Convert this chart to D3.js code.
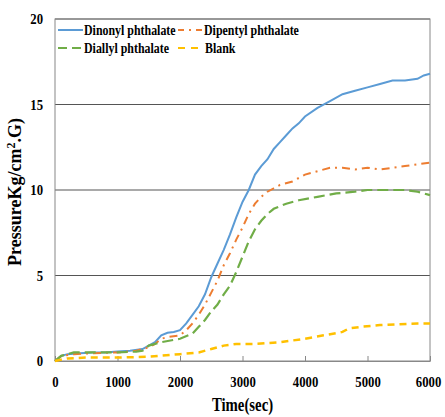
<!DOCTYPE html>
<html lang="en">
<head>
<meta charset="utf-8">
<title>Pressure vs time</title>
<script src="https://cdn.jsdelivr.net/npm/d3@7"></script>
<style>
  body { margin: 0; background: #fff; }
</style>
</head>
<body>
<svg id="chart" width="445" height="417"></svg>
<script>
// time (sec) and pressure readings per sample
var timeDinonyl = [0, 100, 200, 400, 600, 800, 1000, 1200, 1400, 1500, 1600, 1700, 1800, 1900, 2000, 2100, 2200, 2300, 2400, 2500, 2600, 2700, 2800, 2900, 3000, 3100, 3200, 3300, 3400, 3500, 3600, 3700, 3800, 3900, 4000, 4200, 4400, 4600, 4800, 5000, 5200, 5400, 5600, 5800, 5900, 6000];
var dinonyl     = [0, 0.3, 0.4, 0.45, 0.5, 0.5, 0.55, 0.6, 0.7, 0.9, 1.1, 1.5, 1.65, 1.7, 1.8, 2.2, 2.7, 3.2, 3.9, 4.9, 5.7, 6.5, 7.4, 8.4, 9.3, 10.0, 10.9, 11.4, 11.8, 12.4, 12.8, 13.2, 13.6, 13.9, 14.3, 14.8, 15.2, 15.6, 15.8, 16.0, 16.2, 16.4, 16.4, 16.5, 16.7, 16.8];

var timeDipentyl = [0, 100, 300, 600, 1000, 1300, 1500, 1600, 1700, 1800, 2000, 2100, 2200, 2300, 2400, 2500, 2600, 2700, 2800, 2900, 3000, 3100, 3200, 3300, 3400, 3500, 3600, 3800, 4000, 4200, 4400, 4600, 4800, 5000, 5200, 5400, 5600, 5800, 6000];
var dipentyl     = [0, 0.3, 0.4, 0.45, 0.5, 0.6, 0.8, 1.0, 1.3, 1.4, 1.5, 1.8, 2.2, 2.7, 3.3, 4.0, 4.7, 5.6, 6.3, 7.1, 7.8, 8.6, 9.2, 9.6, 9.9, 10.1, 10.3, 10.5, 10.9, 11.1, 11.3, 11.3, 11.2, 11.3, 11.2, 11.3, 11.4, 11.5, 11.6];

var timeDiallyl = [0, 100, 300, 600, 1000, 1300, 1400, 1500, 1700, 2000, 2200, 2300, 2400, 2500, 2600, 2700, 2800, 2900, 3000, 3100, 3200, 3300, 3400, 3500, 3700, 3900, 4200, 4500, 4800, 5000, 5300, 5600, 5800, 6000];
var diallyl     = [0, 0.3, 0.5, 0.5, 0.5, 0.55, 0.6, 0.9, 1.1, 1.3, 1.6, 2.0, 2.4, 2.9, 3.3, 3.9, 4.4, 5.2, 6.1, 7.0, 7.7, 8.2, 8.6, 8.9, 9.2, 9.4, 9.6, 9.8, 9.9, 10.0, 10.0, 10.0, 9.9, 9.7];

var timeBlank = [0, 200, 500, 1000, 1500, 2000, 2300, 2500, 2700, 2900, 3200, 3600, 4000, 4300, 4600, 4700, 4900, 5200, 5500, 5800, 6000];
var blank     = [0, 0.15, 0.2, 0.2, 0.25, 0.4, 0.5, 0.7, 0.9, 1.0, 1.0, 1.1, 1.3, 1.5, 1.7, 1.9, 2.0, 2.1, 2.15, 2.2, 2.2];

var seriesNames = ["Dinonyl phthalate", "Dipentyl phthalate", "Diallyl phthalate", "Blank"];
var xTicks = [0, 1000, 2000, 3000, 4000, 5000, 6000];
var yTicks = [0, 5, 10, 15, 20];

var series = [
  {name: seriesNames[0], t: timeDinonyl, v: dinonyl, color: "#5B9BD5", dash: null, width: 2},
  {name: seriesNames[1], t: timeDipentyl, v: dipentyl, color: "#ED7D31", dash: "8,5,2,5", width: 2},
  {name: seriesNames[2], t: timeDiallyl, v: diallyl, color: "#70AD47", dash: "11,5", width: 2.2},
  {name: seriesNames[3], t: timeBlank, v: blank, color: "#FFC000", dash: "7,5", width: 2.5}
];

var FONT = "Liberation Serif";

var svg = d3.select("#chart"),
    margin = {top: 19, left: 55, bottom: 56, right: 15},
    width = +svg.attr("width") - margin.left - margin.right,
    height = +svg.attr("height") - margin.top - margin.bottom;

var x = d3.scaleLinear().domain([0, 6000]).range([margin.left, margin.left + width]);
var y = d3.scaleLinear().domain([0, 20]).range([margin.top + height, margin.top]);

// squeeze text horizontally, the original uses a narrow bold serif
function condense(sel, k) {
  sel.each(function() {
    var w = this.getComputedTextLength();
    d3.select(this).attr("textLength", w * k).attr("lengthAdjust", "spacingAndGlyphs");
  });
}

// grid lines
svg.append("g")
  .selectAll("line")
  .data(yTicks.filter(d => d > 0))
  .enter().append("line")
    .attr("x1", x(0)).attr("x2", x(6000))
    .attr("y1", d => y(d)).attr("y2", d => y(d))
    .attr("stroke", "#555").attr("stroke-width", 1.2);

// frame
svg.append("rect")
  .attr("x", x(0)).attr("y", y(20))
  .attr("width", x(6000) - x(0)).attr("height", y(0) - y(20))
  .attr("fill", "none").attr("stroke", "#888").attr("stroke-width", 1);

// x axis, ticks pointing inward
var xAxis = svg.append("g")
  .attr("transform", `translate(0,${y(0)})`)
  .call(d3.axisBottom(x).tickValues(xTicks).tickFormat(d3.format("d"))
        .tickSizeInner(-5).tickSizeOuter(0).tickPadding(15));
xAxis.attr("font-family", FONT);
xAxis.select(".domain").attr("stroke", "#888");
xAxis.selectAll(".tick line").attr("stroke", "#888");
xAxis.selectAll("text")
  .attr("font-family", FONT).attr("font-weight", "bold")
  .style("font-size", "15px").attr("fill", "#000")
  .attr("dx", d => d == 6000 ? -2 : 0)
  .call(condense, 0.85);

var yAxis = svg.append("g")
  .attr("transform", `translate(${x(0)},0)`)
  .call(d3.axisLeft(y).tickValues(yTicks).tickSize(0).tickPadding(12));
yAxis.attr("font-family", FONT);
yAxis.select(".domain").remove();
yAxis.selectAll("text")
  .attr("font-family", FONT).attr("font-weight", "bold")
  .style("font-size", "15px").attr("fill", "#000")
  .call(condense, 0.85);

// lines
var line = d3.line().x(d => x(d[0])).y(d => y(d[1]));
series.forEach(function(s) {
  svg.append("path")
    .datum(s.t.map((t, i) => [t, s.v[i]]))
    .attr("d", line)
    .attr("fill", "none")
    .attr("stroke", s.color)
    .attr("stroke-width", s.width)
    .attr("stroke-dasharray", s.dash);
});

// legend
var legendPos = [[58, 30], [178, 30], [58, 48], [178, 48]];
var legendDash = [null, "6,5,2,5", "9,5", "7,6"];
series.forEach(function(s, i) {
  var p = legendPos[i];
  svg.append("line")
    .attr("x1", p[0]).attr("x2", p[0] + 25)
    .attr("y1", p[1]).attr("y2", p[1])
    .attr("stroke", s.color).attr("stroke-width", 2)
    .attr("stroke-dasharray", legendDash[i]);
  svg.append("text")
    .attr("x", p[0] + (i == 3 ? 27 : 26)).attr("y", p[1] + 4.5)
    .attr("font-family", FONT).attr("font-weight", "bold")
    .style("font-size", "14px")
    .text(s.name)
    .call(condense, 0.85);
});

// axis titles
svg.append("text")
  .attr("x", x(3000)).attr("y", 411)
  .attr("text-anchor", "middle")
  .attr("font-family", FONT).attr("font-weight", "bold")
  .style("font-size", "18px")
  .text("Time(sec)")
  .call(condense, 0.82);

svg.append("text")
  .attr("transform", `translate(21,${y(10) + 2}) rotate(-90)`)
  .attr("text-anchor", "middle")
  .attr("font-family", FONT).attr("font-weight", "bold")
  .style("font-size", "18px")
  .html("PressureKg/cm<tspan dy='-6' font-size='12px'>2</tspan><tspan dy='6'>.G)</tspan>");
</script>
</body>
</html>
